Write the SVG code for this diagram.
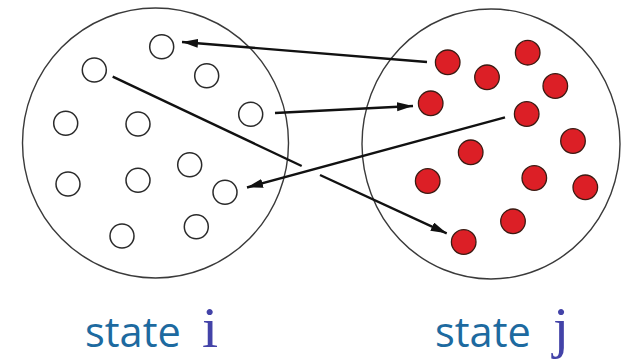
<svg xmlns="http://www.w3.org/2000/svg" width="621" height="363" viewBox="0 0 621 363">
<style>
.big{fill:none;stroke:#3a3a3a;stroke-width:1.4}
.o{fill:#fff;stroke:#2a2a2a;stroke-width:1.5}
.r{fill:#dc1f26;stroke:#3a1a12;stroke-width:1.3}
.ln{stroke:#111;stroke-width:2.4;fill:none}
.lab{font-family:"Open Sans",sans-serif;font-size:41.5px;fill:#1d6aa0}
.v{font-family:"Liberation Serif",serif;font-size:58px;fill:#4343a8}
</style>
<defs>
<marker id="ah" markerUnits="userSpaceOnUse" markerWidth="18" markerHeight="10" refX="16" refY="4.5" orient="auto">
<path d="M0,0 L16,4.5 L0,9 z" fill="#111"/>
</marker>
</defs>
<rect width="621" height="363" fill="#fff"/>
<g id="state-i">
<ellipse class="big" cx="155.5" cy="143" rx="133" ry="135"/>
</g>
<g id="state-j">
<ellipse class="big" cx="491" cy="144" rx="129" ry="135"/>
</g>
<g id="i1"><circle class="o" cx="161.7" cy="46.7" r="12"/></g>
<g id="i2"><circle class="o" cx="94.3" cy="70" r="12"/></g>
<g id="i3"><circle class="o" cx="206.7" cy="75.7" r="12"/></g>
<g id="i4"><circle class="o" cx="250.7" cy="114.3" r="12"/></g>
<g id="i5"><circle class="o" cx="65.7" cy="123.3" r="12"/></g>
<g id="i6"><circle class="o" cx="138" cy="124" r="12"/></g>
<g id="i7"><circle class="o" cx="189.7" cy="164.7" r="12"/></g>
<g id="i8"><circle class="o" cx="68" cy="184" r="12"/></g>
<g id="i9"><circle class="o" cx="138" cy="180.3" r="12"/></g>
<g id="i10"><circle class="o" cx="225" cy="192.3" r="12"/></g>
<g id="i11"><circle class="o" cx="196.3" cy="226.7" r="12"/></g>
<g id="i12"><circle class="o" cx="122" cy="236" r="12"/></g>
<g id="j1"><circle class="r" cx="447.7" cy="62.3" r="12.3"/></g>
<g id="j2"><circle class="r" cx="527.7" cy="52.7" r="12.3"/></g>
<g id="j3"><circle class="r" cx="487" cy="77.3" r="12.3"/></g>
<g id="j4"><circle class="r" cx="555.3" cy="86" r="12.3"/></g>
<g id="j5"><circle class="r" cx="430.7" cy="103.3" r="12.3"/></g>
<g id="j6"><circle class="r" cx="526.7" cy="114" r="12.3"/></g>
<g id="j7"><circle class="r" cx="573" cy="141" r="12.3"/></g>
<g id="j8"><circle class="r" cx="470.7" cy="152.3" r="12.3"/></g>
<g id="j9"><circle class="r" cx="427.7" cy="181" r="12.3"/></g>
<g id="j10"><circle class="r" cx="534.3" cy="178" r="12.3"/></g>
<g id="j11"><circle class="r" cx="585.3" cy="187.3" r="12.3"/></g>
<g id="j12"><circle class="r" cx="513" cy="221.3" r="12.3"/></g>
<g id="j13"><circle class="r" cx="463.7" cy="242" r="12.3"/></g>
<g id="connectors">
<line class="ln" x1="427" y1="62" x2="182" y2="42" marker-end="url(#ah)"/>
<line class="ln" x1="275" y1="113" x2="413" y2="106" marker-end="url(#ah)"/>
<line class="ln" x1="505" y1="117.3" x2="247" y2="187.5" marker-end="url(#ah)"/>
<line class="ln" x1="112.7" y1="76.7" x2="301.7" y2="166"/>
<line class="ln" x1="320" y1="175" x2="446.7" y2="233.3" marker-end="url(#ah)"/>
</g>
<g id="labels">
<text class="lab" x="85" y="347">state</text>
<text class="v" x="202" y="347">i</text>
<text class="lab" x="435" y="347">state</text>
<text class="v" x="553" y="347">j</text>
</g>
</svg>
